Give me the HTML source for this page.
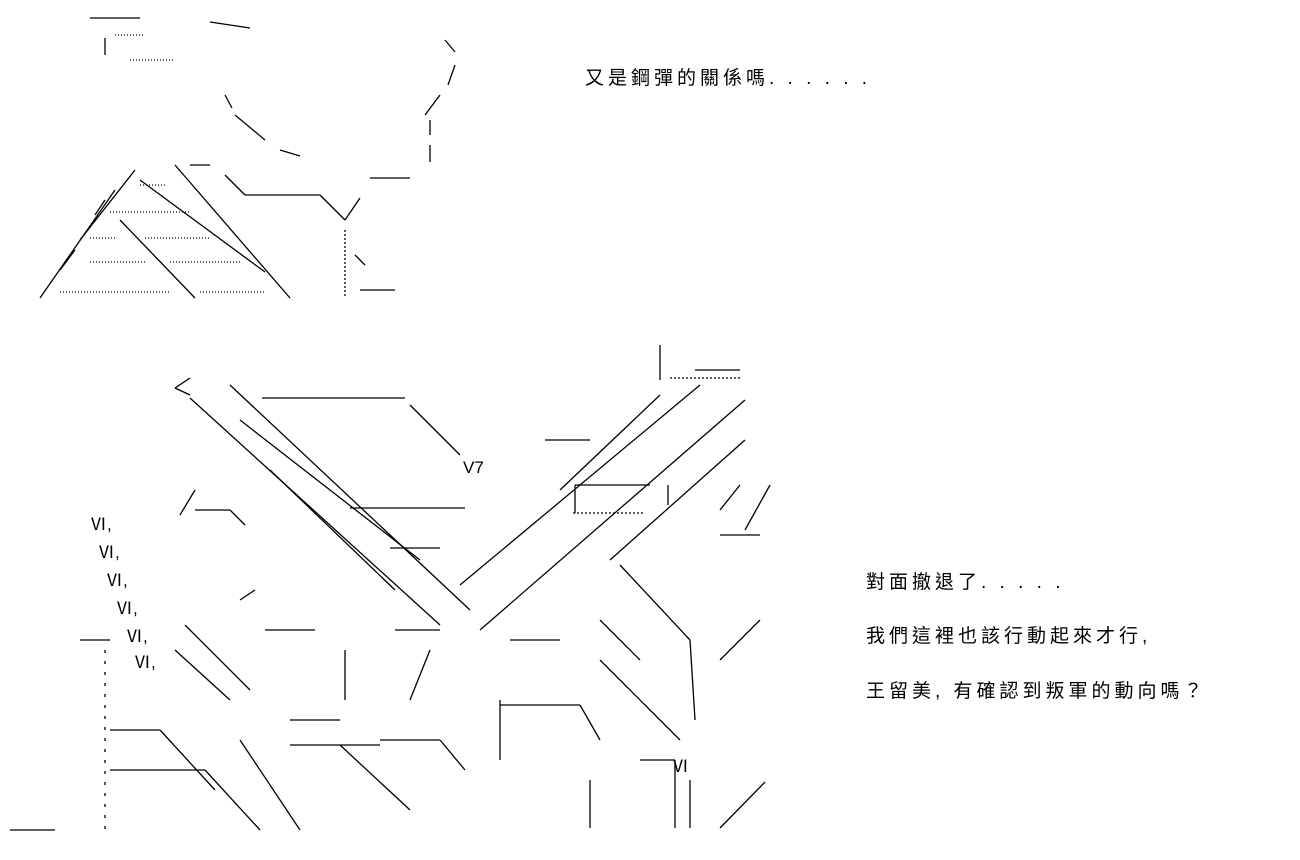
<!DOCTYPE html>
<html><head><meta charset="utf-8"><style>
html,body{margin:0;padding:0;background:#fff;width:1300px;height:860px;overflow:hidden;position:relative}
.t{position:absolute;font-family:"Liberation Sans","Noto Sans CJK TC",sans-serif;font-size:19px;color:#000;white-space:nowrap;letter-spacing:4px}
.a{position:absolute;font-family:"Liberation Sans","Noto Sans CJK TC",sans-serif;font-size:17px;color:#000;white-space:nowrap}
svg{position:absolute;left:0;top:0}
</style></head><body>
<svg width="1300" height="860" stroke="#000" stroke-width="1.3" fill="none">
<g>
<line x1="90" y1="18" x2="140" y2="18"/><line x1="210" y1="22" x2="250" y2="28"/>
<line x1="105" y1="38" x2="105" y2="55"/><line x1="445" y1="40" x2="455" y2="52"/>
<line x1="455" y1="65" x2="448" y2="85"/><line x1="440" y1="95" x2="425" y2="115"/>
<line x1="430" y1="120" x2="430" y2="135"/><line x1="430" y1="145" x2="430" y2="162"/>
<line x1="370" y1="178" x2="410" y2="178"/><line x1="225" y1="95" x2="232" y2="108"/>
<line x1="235" y1="115" x2="265" y2="140"/><line x1="280" y1="150" x2="300" y2="156"/>
<line x1="115" y1="190" x2="40" y2="298"/><line x1="135" y1="170" x2="80" y2="240"/>
<line x1="105" y1="200" x2="95" y2="215"/><line x1="75" y1="250" x2="60" y2="270"/>
<line x1="175" y1="165" x2="290" y2="298"/><line x1="120" y1="220" x2="195" y2="298"/>
<line x1="140" y1="180" x2="265" y2="272"/><line x1="225" y1="175" x2="245" y2="195"/>
<line x1="245" y1="195" x2="320" y2="195"/><line x1="320" y1="195" x2="345" y2="220"/>
<line x1="345" y1="220" x2="360" y2="198"/><line x1="190" y1="165" x2="210" y2="165"/>
<line x1="345" y1="230" x2="345" y2="298" stroke-dasharray="2,2"/>
<g stroke-dasharray="1,2">
<line x1="140" y1="185" x2="165" y2="185"/><line x1="110" y1="212" x2="190" y2="212"/>
<line x1="90" y1="238" x2="115" y2="238"/><line x1="145" y1="238" x2="210" y2="238"/>
<line x1="90" y1="262" x2="145" y2="262"/><line x1="170" y1="262" x2="240" y2="262"/>
<line x1="60" y1="292" x2="170" y2="292"/><line x1="200" y1="292" x2="265" y2="292"/>
<line x1="115" y1="35" x2="145" y2="35"/><line x1="130" y1="60" x2="175" y2="60"/>
</g>
<line x1="355" y1="255" x2="365" y2="265"/><line x1="360" y1="290" x2="395" y2="290"/>
</g>
<g>
<line x1="190" y1="378" x2="175" y2="388"/><line x1="175" y1="388" x2="190" y2="395"/>
<line x1="262" y1="398" x2="405" y2="398"/><line x1="410" y1="405" x2="460" y2="455"/>
<line x1="190" y1="398" x2="440" y2="625"/><line x1="230" y1="385" x2="470" y2="610"/>
<line x1="240" y1="420" x2="420" y2="560"/><line x1="270" y1="470" x2="395" y2="590"/>
<line x1="350" y1="508" x2="465" y2="508"/><line x1="390" y1="548" x2="440" y2="548"/>
<line x1="745" y1="400" x2="480" y2="630"/><line x1="700" y1="385" x2="460" y2="585"/>
<line x1="660" y1="395" x2="560" y2="490"/><line x1="745" y1="440" x2="610" y2="560"/>
<line x1="670" y1="378" x2="740" y2="378" stroke-dasharray="2,2"/>
<line x1="573" y1="513" x2="645" y2="513" stroke-dasharray="2,2"/>
<line x1="575" y1="485" x2="650" y2="485"/><line x1="575" y1="485" x2="575" y2="513"/>
<line x1="668" y1="485" x2="668" y2="505"/><line x1="770" y1="485" x2="745" y2="530"/>
<line x1="720" y1="535" x2="760" y2="535"/><line x1="740" y1="485" x2="720" y2="510"/>
<line x1="660" y1="345" x2="660" y2="380"/><line x1="695" y1="370" x2="740" y2="370"/>
<line x1="620" y1="565" x2="690" y2="640"/><line x1="690" y1="640" x2="695" y2="720"/>
<line x1="760" y1="620" x2="720" y2="660"/><line x1="765" y1="782" x2="720" y2="828"/>
<line x1="545" y1="440" x2="590" y2="440"/><line x1="510" y1="640" x2="560" y2="640"/>
<line x1="600" y1="620" x2="640" y2="660"/><line x1="600" y1="660" x2="680" y2="740"/>
<line x1="640" y1="760" x2="675" y2="760"/><line x1="675" y1="760" x2="675" y2="828"/>
<line x1="690" y1="780" x2="690" y2="828"/><line x1="590" y1="780" x2="590" y2="828"/>
<line x1="500" y1="700" x2="500" y2="760"/><line x1="500" y1="705" x2="580" y2="705"/>
<line x1="580" y1="705" x2="600" y2="740"/>
<line x1="185" y1="625" x2="250" y2="690"/><line x1="175" y1="650" x2="230" y2="700"/>
<line x1="110" y1="730" x2="160" y2="730"/><line x1="160" y1="730" x2="215" y2="790"/>
<line x1="110" y1="770" x2="205" y2="770"/><line x1="205" y1="770" x2="260" y2="830"/>
<line x1="240" y1="740" x2="300" y2="830"/><line x1="290" y1="720" x2="340" y2="720"/>
<line x1="290" y1="745" x2="380" y2="745"/><line x1="340" y1="745" x2="410" y2="810"/>
<line x1="380" y1="740" x2="440" y2="740"/><line x1="440" y1="740" x2="465" y2="770"/>
<line x1="265" y1="630" x2="315" y2="630"/><line x1="345" y1="650" x2="345" y2="700"/>
<line x1="395" y1="630" x2="440" y2="630"/><line x1="430" y1="650" x2="410" y2="700"/>
<line x1="195" y1="490" x2="180" y2="515"/><line x1="195" y1="510" x2="230" y2="510"/>
<line x1="230" y1="510" x2="245" y2="525"/><line x1="240" y1="600" x2="255" y2="590"/>
<line x1="10" y1="830" x2="55" y2="830"/><line x1="80" y1="640" x2="110" y2="640"/>
<line x1="105" y1="650" x2="105" y2="830" stroke-dasharray="3,8"/>
</g>
</svg>
<div class="t" style="left:585px;top:63px">又是鋼彈的關係嗎. . . . . .</div>
<div class="t" style="left:866px;top:567px">對面撤退了. . . . .</div>
<div class="t" style="left:866px;top:621px">我們這裡也該行動起來才行,</div>
<div class="t" style="left:866px;top:676px">王留美, 有確認到叛軍的動向嗎？</div>
<div class="a" style="left:90px;top:510px">Ⅵ,</div>
<div class="a" style="left:98px;top:538px">Ⅵ,</div>
<div class="a" style="left:106px;top:566px">Ⅵ,</div>
<div class="a" style="left:116px;top:594px">Ⅵ,</div>
<div class="a" style="left:126px;top:622px">Ⅵ,</div>
<div class="a" style="left:134px;top:648px">Ⅵ,</div>
<div class="a" style="left:463px;top:458px">V7</div>
<div class="a" style="left:672px;top:752px">Ⅵ</div>
</body></html>
